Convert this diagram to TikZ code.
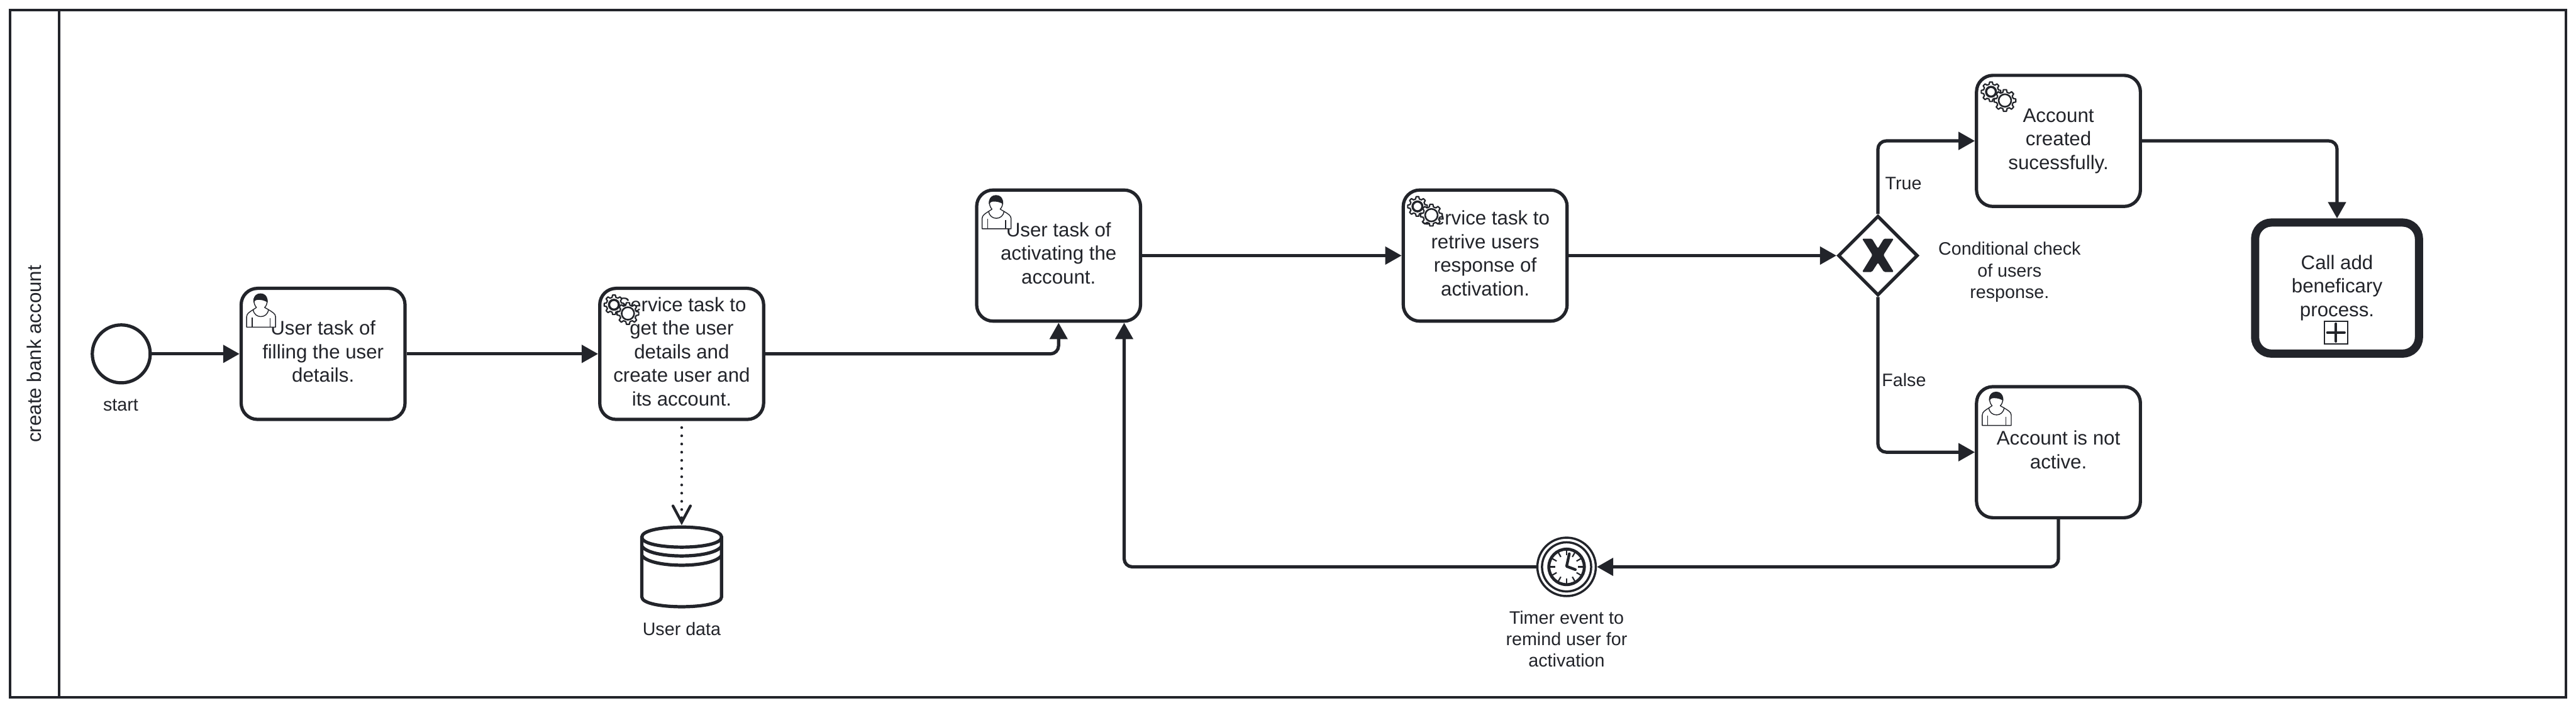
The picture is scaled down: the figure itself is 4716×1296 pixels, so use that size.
\documentclass[tikz,border=0pt]{standalone}
\usepackage{fontspec}
\setmainfont{Liberation Sans}
\usetikzlibrary{arrows.meta,shapes.geometric,calc}
\definecolor{ink}{HTML}{22242A}
\def\ux{0.2mm}
\newcommand{\bigtxt}{\fontsize{20.49pt}{24.58pt}\selectfont}
\newcommand{\smalltxt}{\fontsize{18.78pt}{22.53pt}\selectfont}
\tikzset{
  taskbox/.style={draw=ink,fill=white,line width=6*\ux,rounded corners=30*\ux,inner sep=0pt,
    minimum width=300*\ux,minimum height=240*\ux,align=center,text=ink,font=\bigtxt},
  subbox/.style={taskbox,line width=15*\ux},
  startev/.style={circle,draw=ink,fill=white,line width=6*\ux,inner sep=0pt,minimum size=106*\ux},
  timerev/.style={circle,draw=ink,fill=white,line width=4*\ux,inner sep=0pt,minimum size=107*\ux},
  gatew/.style={diamond,draw=ink,fill=white,line width=6*\ux,inner sep=0pt,aspect=1,minimum width=146*\ux,minimum height=146*\ux},
  lbl/.style={text=ink,font=\smalltxt,align=center,inner sep=0pt},
  flow/.style={draw=ink,line width=6*\ux,rounded corners=15*\ux,line join=round,
    -{Triangle[length=30*\ux,width=32*\ux]}},
  assoc/.style={draw=ink,line width=5*\ux,line cap=round,dash pattern=on 0pt off 15*\ux,dash phase=3*\ux,
    -{Straight Barb[length=30*\ux,width=32*\ux,line cap=round,line width=5*\ux]}},
  poolline/.style={draw=ink,line width=4.5*\ux},
  usericon/.pic={
    \begin{scope}[draw=ink,line width=1.6*\ux,fill=white,line join=round]
    \filldraw (9,69) -- (9,50) .. controls (9,44) and (15,41) .. (21,37) -- (27,33)
      .. controls (20,26) and (20,8) .. (34.5,8) .. controls (49,8) and (49,27) .. (42,33)
      -- (49,37) .. controls (55,41) and (62,44) .. (62,50) -- (62,69) -- cycle;
    \draw (21,37) .. controls (23,54) and (47,54) .. (49,37);
    \draw (19,51) -- (19,69);
    \draw (52,53) -- (52,69);
    \fill[ink] (21.5,24) .. controls (20,14) and (26,8) .. (34.5,8) .. controls (43,8) and (48,14) .. (47.5,24)
      .. controls (42,20) and (36,19) .. (30,19) .. controls (26,19) and (23,21) .. (21.5,24) -- cycle;
    \end{scope}
  },
  gearicon/.pic={
    \begin{scope}[draw=ink,line width=2.5*\ux,fill=white,line join=round]
    \begin{scope}[shift={(30,28)}]
      \filldraw (-14:14) \foreach \a in {0,45,...,315}{ -- ({\a-8}:18) -- ({\a+8}:18) -- ({\a+14}:14) -- ({\a+31}:14) } -- cycle;
      \draw[line width=4*\ux] (0,0) circle[radius=9*\ux];
    \end{scope}
    \begin{scope}[shift={(55.5,44)}]
      \filldraw (-14:15.5) \foreach \a in {0,45,...,315}{ -- ({\a-8}:20) -- ({\a+8}:20) -- ({\a+14}:15.5) -- ({\a+31}:15.5) } -- cycle;
      \draw[line width=3*\ux] (0,0) circle[radius=11.5*\ux];
    \end{scope}
    \end{scope}
  }
}
\begin{document}
\begin{tikzpicture}[x=\ux,y=-\ux]
\useasboundingbox (0,0) rectangle (4716,1296);
\fill[white] (0,0) rectangle (4716,1296);
% pool
\draw[poolline] (18,18) rectangle (4698,1277);
\draw[poolline] (108,18) -- (108,1277);
\node[rotate=90,anchor=base,text=ink,font=\bigtxt,inner sep=0pt] (lane) at (75,648) {create bank account};
% nodes
\node[startev] (start) at (222,648) {};
\node[lbl,anchor=base] (startlbl) at (221,752) {start};
\node[taskbox] (t1) at (591.5,648) {\strut User task of\\filling the user\\\strut details.};
\node[taskbox] (t2) at (1248,648) {\strut Service task to\\get the user\\details and\\create user and\\\strut its account.};
\node[taskbox] (t3) at (1938,468) {\strut User task of\\activating the\\\strut account.};
\node[taskbox] (t4) at (2719,468) {\strut Service task to\\retrive users\\response of\\\strut activation.};
\node[gatew] (gw) at (3438,468) {};
\node[lbl] (gwlbl) at (3679,499) {\strut Conditional check\\of users\\\strut response.};
\node[taskbox] (top) at (3768.5,258) {\strut Account\\created\\\strut sucessfully.};
\node[taskbox] (bot) at (3768.5,828) {\strut Account is not\\\strut active.};
\node[subbox] (sub) at (4278.5,527.5) {\strut Call add\\beneficary\\\strut process.};
\node[timerev] (timer) at (2868,1038) {};
\node[lbl] (timerlbl) at (2868,1174) {\strut Timer event to\\remind user for\\\strut activation};
\node[inner sep=0pt,minimum width=152*\ux,minimum height=152*\ux] (store) at (1248,1038) {};
\node[lbl,anchor=base] (storelbl) at (1248,1163) {User data};
\node[lbl,anchor=base west] (truelbl) at (3451,347) {True};
\node[lbl,anchor=base west] (falselbl) at (3445,707) {False};
\coordinate (t3in) at (2058,591);
% connectors
\draw[flow] (start.east) -- (t1.west);
\draw[flow] (t1.east) -- (t2.west);
\draw[flow] (t2.east) -| (t3.south);
\draw[flow] (t3.east) -- (t4.west);
\draw[flow] (t4.east) -- (gw.west);
\draw[flow] (gw.north) |- (top.west);
\draw[flow] (gw.south) |- (bot.west);
\draw[flow] (top.east) -| (sub.north);
\draw[flow] (bot.south) |- (timer.east);
\draw[flow] (timer.west) -| (t3in);
\draw[assoc] (t2.south) -- (store.north);
% data store
\begin{scope}[draw=ink,line width=6*\ux,line join=round]
\filldraw[fill=white] (1175,983) -- (1175,1093) .. controls (1175,1117) and (1321,1117) .. (1321,1093) -- (1321,983) -- cycle;
\filldraw[fill=white] (1175,983.5) .. controls (1175,959) and (1321,959) .. (1321,983.5) .. controls (1321,1008) and (1175,1008) .. (1175,983.5) -- cycle;
\draw (1175,1000) .. controls (1190,1024) and (1306,1024) .. (1321,1000);
\draw (1175,1017) .. controls (1190,1041) and (1306,1041) .. (1321,1017);
\end{scope}
% gateway marker
\fill[ink,rounded corners=2*\ux] (3409,437) -- (3427,437) -- (3438,455) -- (3449,437) -- (3467,437) -- (3448,467) -- (3467,498) -- (3449,498) -- (3438,481) -- (3427,498) -- (3409,498) -- (3428,467) -- cycle;
% timer rings and clock
\draw[ink,line width=4*\ux] (timer.center) circle[radius=45*\ux];
\draw[ink,line width=5.5*\ux,fill=white] (timer.center) circle[radius=32.5*\ux];
\foreach \a in {0,30,...,330}{\draw[ink,line width=2.5*\ux] ($(timer.center)+(\a:21)$) -- ($(timer.center)+(\a:30)$);}
\draw[ink,line width=5*\ux,line cap=round,line join=round] (2873,1014) -- (2868,1037) -- (2884,1043);
% marker
\draw[ink,line width=3*\ux] (4255.5,588.5) rectangle (4298,630);
\draw[ink,line width=5*\ux,line cap=round] (4261,609) -- (4292,609);
\draw[ink,line width=5*\ux,line cap=round] (4276.5,593) -- (4276.5,625);
% task icons
\pic at (442.5,530) {usericon};
\pic at (1094,530) {gearicon};
\pic at (1789,350) {usericon};
\pic at (2565,350) {gearicon};
\pic at (3615,140) {gearicon};
\pic at (3620,710) {usericon};
\end{tikzpicture}
\end{document}
